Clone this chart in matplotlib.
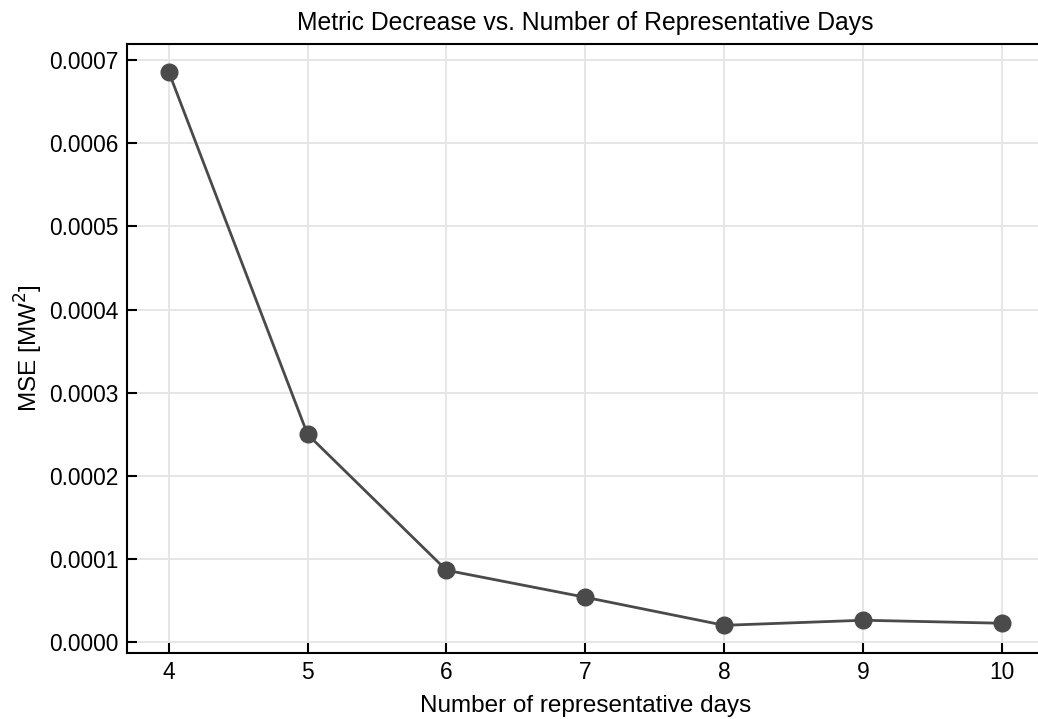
import numpy as np
import matplotlib.pyplot as plt

plt.rcParams['font.family'] = ['Liberation Sans', 'DejaVu Sans']

# Representative days and MSE values
days = [4, 5, 6, 7, 8, 9, 10]
mse = [0.000686, 0.000250, 0.0000866, 0.0000541, 0.0000204, 0.0000265, 0.0000229]

fig = plt.figure(figsize=(10.38, 7.19), dpi=100)
ax = fig.add_axes([127 / 1038, 1 - 653 / 719, (1043.7 - 127) / 1038, (653 - 44) / 719])

ax.plot(days, mse, marker='o', color='#4a4a4a', linewidth=2.0, markersize=12)
ax.grid(True, color='#e6e6e6', linewidth=1.4)
ax.set_axisbelow(True)

for side in ['left', 'bottom', 'top', 'right']:
    ax.spines[side].set_linewidth(1.5)
ax.tick_params(direction='in', length=7, width=1.5, labelsize=16.4, pad=6)
ax.set_yticks(np.arange(0, 0.00071, 0.0001))
ax.set_yticklabels([f"{v:.4f}" for v in np.arange(0, 0.00071, 0.0001)])

ax.set_xlabel("Number of representative days", fontsize=17.5, labelpad=8)
ax.set_ylabel("MSE [MW$^2$]", fontsize=17.5, labelpad=3)
ax.set_title("Metric Decrease vs. Number of Representative Days", fontsize=17.8, pad=10)

fig.savefig("out.png", dpi=100)
